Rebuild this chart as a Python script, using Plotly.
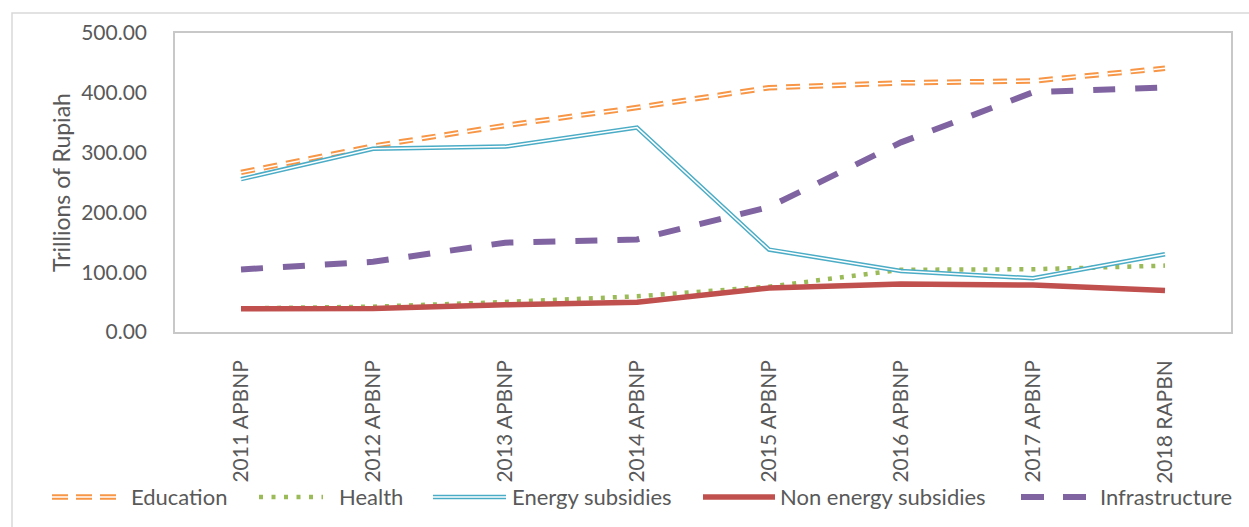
import plotly.graph_objects as go

# Budget allocations, trillions of Rupiah
categories = ["2011 APBNP", "2012 APBNP", "2013 APBNP", "2014 APBNP",
              "2015 APBNP", "2016 APBNP", "2017 APBNP", "2018 RAPBN"]
education = [266.9, 310.8, 345.3, 375.4, 408.5, 416.6, 419.8, 440.9]
health = [39.5, 42.3, 50.1, 59.7, 75.9, 104.1, 104.9, 111.0]
energy_subsidies = [255.6, 306.5, 310.0, 341.8, 137.8, 102.1, 89.9, 130.1]
non_energy_subsidies = [39.0, 39.5, 45.4, 49.6, 73.6, 80.2, 78.4, 69.3]
infrastructure = [104.7, 117.4, 149.4, 154.7, 209.0, 317.1, 400.9, 409.0]

TEXT = "#595959"
FONT = "Lato"

# line styles: (colour, width, dash, inner white core width or None)
styles = {
    "Education": ("#F79646", 5.5, "14px,9px", 1.5),
    "Health": ("#9BBB59", 4.5, "4px,8px", None),
    "Energy subsidies": ("#4BACC6", 4.5, "solid", 1.5),
    "Non energy subsidies": ("#C0504D", 5.5, "solid", None),
    "Infrastructure": ("#8064A2", 6, "22px,20px", None),
}
series = {
    "Education": education,
    "Health": health,
    "Energy subsidies": energy_subsidies,
    "Non energy subsidies": non_energy_subsidies,
    "Infrastructure": infrastructure,
}

fig = go.Figure()
for name, values in series.items():
    color, width, dash, core = styles[name]
    fig.add_trace(go.Scatter(x=categories, y=values, name=name, mode="lines",
                             line=dict(color=color, width=width, dash=dash)))
    if core:
        fig.add_trace(go.Scatter(x=categories, y=values, mode="lines", showlegend=False,
                                 hoverinfo="skip",
                                 line=dict(color="white", width=core, dash=dash)))

L, R, T, B = 175, 18, 33, 195
W, H = 1249, 527
pw, ph = W - L - R, H - T - B


def px_x(p):
    return (p - L) / pw


def px_y(p):
    return (H - B - p) / ph


# outer chart frame
fig.add_shape(type="rect", xref="paper", yref="paper",
              x0=px_x(12), x1=px_x(1262), y0=px_y(540), y1=px_y(13),
              line=dict(color="#D9D9D9", width=1.5), fillcolor="rgba(0,0,0,0)", layer="below")

# legend row along the bottom: symbol span (px), label start (px), symbol dash
legend_items = [
    ("Education", 52, 117, 129, "16px,8px"),
    ("Health", 259, 323, 337, "4px,8.5px"),
    ("Energy subsidies", 433, 506, 510, None),
    ("Non energy subsidies", 703, 775, 778, None),
    ("Infrastructure", 1021, 1087, 1098, "23px,19px"),
]
ly = px_y(497)
for name, s0, s1, tx, ldash in legend_items:
    color, width, dash, core = styles[name]
    d = ldash if ldash else "solid"
    fig.add_shape(type="line", xref="paper", yref="paper",
                  x0=px_x(s0), x1=px_x(s1), y0=ly, y1=ly,
                  line=dict(color=color, width=width, dash=d))
    if core:
        fig.add_shape(type="line", xref="paper", yref="paper",
                      x0=px_x(s0), x1=px_x(s1), y0=ly, y1=ly,
                      line=dict(color="white", width=core, dash=d))
    fig.add_annotation(text=name, xref="paper", yref="paper", x=px_x(tx), y=ly,
                       xanchor="left", yanchor="middle", showarrow=False,
                       font=dict(size=22, color=TEXT, family=FONT))

fig.update_layout(
    width=W, height=H,
    margin=dict(l=L, r=R, t=T, b=B, pad=0),
    paper_bgcolor="white", plot_bgcolor="white",
    font=dict(family=FONT, size=21, color=TEXT),
    showlegend=False,
    xaxis=dict(range=[-0.5, 7.5], tickangle=-90, showgrid=False, showline=True, mirror=True,
               linecolor="#C8C8C8", linewidth=1.5, ticks="", ticklabelstandoff=18,
               tickfont=dict(size=21, color=TEXT, family=FONT)),
    yaxis=dict(range=[0, 500], tickvals=[0, 100, 200, 300, 400, 500],
               tickformat=".2f", showgrid=False, showline=True, mirror=True,
               linecolor="#C8C8C8", linewidth=1.5, ticks="", ticklabelstandoff=22,
               tickfont=dict(size=21, color=TEXT, family=FONT),
               title=dict(text="Trillions of Rupiah", standoff=4,
                          font=dict(size=23, color=TEXT, family=FONT))),
)

fig.write_html("out.html")
